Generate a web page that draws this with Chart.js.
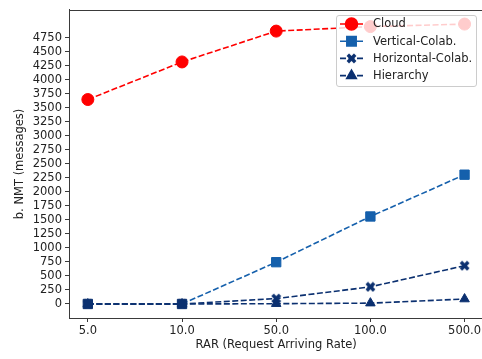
<!DOCTYPE html>
<html>
<head>
<meta charset="utf-8">
<script src="https://cdn.jsdelivr.net/npm/chart.js@4"></script>
<style>
  html, body { margin: 0; padding: 0; background: #fff; overflow: hidden; }
  #wrap { width: 491px; height: 359px; position: relative; }
</style>
</head>
<body>
<div id="wrap"><canvas id="chart"></canvas></div>
<script>
// ---- data ----
const rates = ['5.0', '10.0', '50.0', '100.0', '500.0'];
const cloud = [3645, 4315, 4865, 4945, 4990];
const vertical = [0, 0, 745, 1560, 2305];
const horizontal = [0, 0, 96, 305, 682];
const hierarchy = [0, 0, 5, 15, 88];
const yTicks = [0, 250, 500, 750, 1000, 1250, 1500, 1750, 2000, 2250, 2500,
  2750, 3000, 3250, 3500, 3750, 4000, 4250, 4500, 4750];

const RED = '#ff0000';
const BLUE = '#1560ac';
const NAVY = '#0b3070';
const FONT = { family: 'DejaVu Sans', size: 11.5 };
const INK = '#222';
const SPINE = '#3a3a3a';

// filled "X" marker like matplotlib's 'X'
function xMarker(color, size) {
  const c = document.createElement('canvas');
  c.width = c.height = size;
  const g = c.getContext('2d');
  const h = size / 2, L = h * 0.95, a = L / 3;
  const pts = [[-a, -L], [a, -L], [a, -a], [L, -a], [L, a], [a, a],
    [a, L], [-a, L], [-a, a], [-L, a], [-L, -a], [-a, -a]];
  g.translate(h, h);
  g.rotate(Math.PI / 4);
  g.beginPath();
  pts.forEach(([x, y], i) => i ? g.lineTo(x, y) : g.moveTo(x, y));
  g.closePath();
  g.fillStyle = color;
  g.fill();
  return c;
}

const toPoints = arr => arr.map((v, i) => ({ x: i, y: v }));

function series(label, values, color, style, radius, order) {
  return {
    label: label,
    data: toPoints(values),
    borderColor: color,
    backgroundColor: color,
    pointBackgroundColor: color,
    pointBorderColor: color,
    pointBorderWidth: 1,
    pointStyle: style,
    pointRadius: radius,
    pointHoverRadius: radius,
    borderWidth: 1.6,
    borderDash: [6, 2.5],
    tension: 0,
    fill: false,
    clip: false,
    order: order
  };
}

const verticalSet = series('Vertical-Colab.', vertical, BLUE, 'rect', 6.6, 0);
// the overlapping points at 5.0 / 10.0 show up in navy
verticalSet.pointBackgroundColor = ctx => ctx.dataIndex < 2 ? NAVY : BLUE;
verticalSet.pointBorderColor = ctx => ctx.dataIndex < 2 ? NAVY : BLUE;
verticalSet.segment = { borderColor: ctx => ctx.p0DataIndex < 1 ? NAVY : BLUE };

const datasets = [
  series('Cloud', cloud, RED, 'circle', 6, 4),
  verticalSet,
  series('Horizontal-Colab.', horizontal, NAVY, xMarker(NAVY, 11), 5, 2),
  series('Hierarchy', hierarchy, NAVY, 'triangle', 5.5, 1)
];

// top spine (right one falls off the figure)
const topSpine = {
  id: 'topSpine',
  afterDatasetsDraw(chart) {
    const { ctx, chartArea: a } = chart;
    ctx.save();
    ctx.strokeStyle = SPINE;
    ctx.lineWidth = 1;
    ctx.beginPath();
    ctx.moveTo(a.left, Math.round(a.top) + 0.5);
    ctx.lineTo(a.right, Math.round(a.top) + 0.5);
    ctx.stroke();
    ctx.restore();
  }
};

// matplotlib-like legend, drawn over the lines
const boxLegend = {
  id: 'boxLegend',
  afterDraw(chart) {
    const ctx = chart.ctx;
    const a = chart.chartArea;
    ctx.save();
    // keep the right edge open like the cropped original
    ctx.fillStyle = '#ffffff';
    ctx.fillRect(480, Math.round(a.top) + 1, 20, a.bottom - a.top - 2);

    const x = 336, y = 15, w = 140, h = 71, r = 2.5;
    ctx.beginPath();
    ctx.roundRect(x + 0.5, y + 0.5, w, h, r);
    ctx.fillStyle = 'rgba(255,255,255,0.8)';
    ctx.fill();
    ctx.strokeStyle = '#cccccc';
    ctx.lineWidth = 1;
    ctx.stroke();

    chart.data.datasets.forEach((ds, i) => {
      const cy = 24 + i * 17.2;
      const color = ds.borderColor;
      ctx.strokeStyle = color;
      ctx.fillStyle = color;
      ctx.lineWidth = 1.6;
      ctx.setLineDash([6, 2.5]);
      ctx.beginPath();
      ctx.moveTo(340, cy);
      ctx.lineTo(363, cy);
      ctx.stroke();
      ctx.setLineDash([]);
      Chart.helpers.drawPoint(ctx, {
        pointStyle: ds.pointStyle, radius: ds.pointRadius, rotation: 0, borderWidth: 1
      }, 351.5, cy);
      ctx.fillStyle = INK;
      ctx.font = FONT.size + 'px ' + FONT.family;
      ctx.textBaseline = 'middle';
      ctx.textAlign = 'left';
      ctx.fillText(ds.label, 373, cy + 0.5);
    });
    ctx.restore();
  }
};

new Chart(document.getElementById('chart'), {
  type: 'line',
  data: { datasets: datasets },
  options: {
    responsive: true,
    maintainAspectRatio: false,
    animation: false,
    layout: { padding: { top: 9, left: 0, right: 0, bottom: 0 } },
    plugins: { legend: { display: false }, tooltip: { enabled: false } },
    scales: {
      x: {
        type: 'linear',
        min: -0.2,
        max: 4.2,
        afterBuildTicks: s => { s.ticks = rates.map((_, i) => ({ value: i })); },
        afterFit: s => { s.height = 41; },
        ticks: {
          callback: (v, i) => rates[i],
          font: FONT, color: INK, padding: 2, maxRotation: 0, autoSkip: false
        },
        grid: { drawOnChartArea: false, drawTicks: true, tickLength: 4, color: SPINE },
        border: { display: true, color: SPINE, width: 1 },
        title: {
          display: true, text: 'RAR (Request Arriving Rate)',
          font: FONT, color: INK, padding: { top: 4, bottom: 7 }
        }
      },
      y: {
        type: 'linear',
        min: -250,
        max: 5243,
        afterBuildTicks: s => { s.ticks = yTicks.map(v => ({ value: v })); },
        afterFit: s => { s.width = 69; },
        ticks: { callback: v => String(v), font: FONT, color: INK, padding: 3, autoSkip: false },
        grid: { drawOnChartArea: false, drawTicks: true, tickLength: 4, color: SPINE },
        border: { display: true, color: SPINE, width: 1 },
        title: {
          display: true, text: 'b. NMT (messages)',
          font: FONT, color: INK, padding: { top: 13, bottom: 0 }
        }
      }
    }
  },
  plugins: [topSpine, boxLegend]
});
</script>
</body>
</html>
